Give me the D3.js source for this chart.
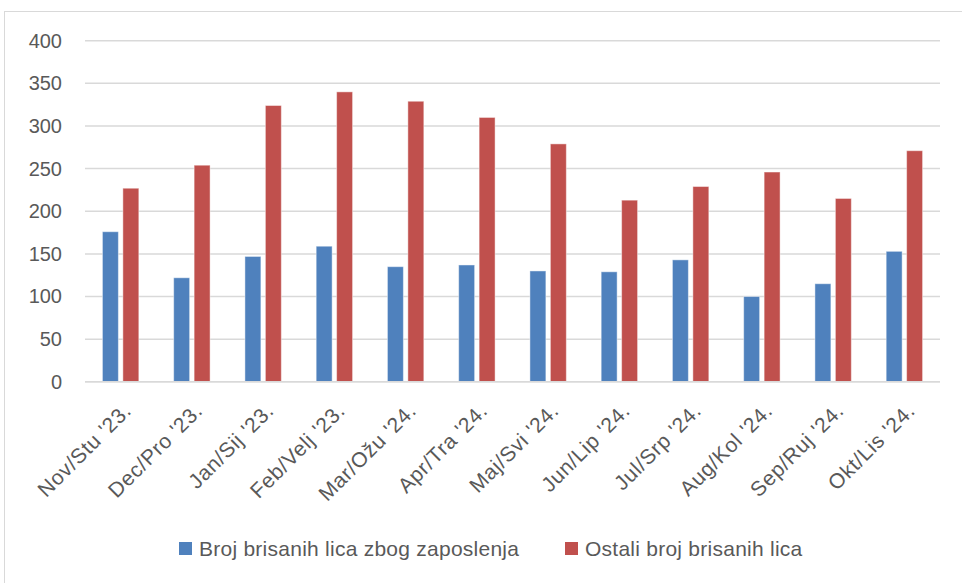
<!DOCTYPE html>
<html>
<head>
<meta charset="utf-8">
<script src="https://cdn.jsdelivr.net/npm/d3@7"></script>
<style>
  body { margin: 0; background: #fff; }
  svg { display: block; font-family: "Liberation Sans", Arial, sans-serif; }
</style>
</head>
<body>
<svg id="chart" width="962" height="583"></svg>
<script>
// data
var months = ["Nov/Stu '23.", "Dec/Pro '23.", "Jan/Sij '23.", "Feb/Velj '23.",
  "Mar/Ožu '24.", "Apr/Tra '24.", "Maj/Svi '24.", "Jun/Lip '24.",
  "Jul/Srp '24.", "Aug/Kol '24.", "Sep/Ruj '24.", "Okt/Lis '24."];
var zaposlenje = [176, 122, 147, 159, 135, 137, 130, 129, 143, 100, 115, 153];
var ostali = [227, 254, 324, 340, 329, 310, 279, 213, 229, 246, 215, 271];
var seriesNames = ["Broj brisanih lica zbog zaposlenja", "Ostali broj brisanih lica"];
var colors = ["#4F81BD", "#C0504D"];
var yTicks = [0, 50, 100, 150, 200, 250, 300, 350, 400];

var svg = d3.select('#chart');

// outer chart frame (runs off the right and bottom edge)
svg.append('rect')
  .attr('x', 4.5).attr('y', 11.5)
  .attr('width', 1100).attr('height', 1100)
  .attr('fill', '#fff')
  .attr('stroke', '#D9D9D9');

var plotLeft = 85, plotRight = 940, plotTop = 40.7, plotBottom = 381.8;

var y = d3.scaleLinear().domain([0, 400]).range([plotBottom, plotTop]);
var x0 = d3.scaleBand().domain(months).range([plotLeft, plotRight]).paddingInner(0.489).paddingOuter(0.2445);
var x1 = d3.scaleBand().domain([0, 1]).range([0, x0.bandwidth()]).paddingInner(0.22);

// gridlines
svg.append('g')
  .selectAll('line')
  .data(yTicks)
  .enter().append('line')
  .attr('x1', plotLeft).attr('x2', plotRight)
  .attr('y1', function (d) { return y(d); })
  .attr('y2', function (d) { return y(d); })
  .attr('stroke', '#D9D9D9')
  .attr('stroke-width', 1.5);

// y axis labels
var yAxis = d3.axisLeft(y).tickValues(yTicks).tickSize(0).tickPadding(0);
var gy = svg.append('g').attr('transform', 'translate(62,0)').call(yAxis);
gy.select('.domain').remove();
gy.selectAll('text')
  .attr('fill', '#595959')
  .style('font-size', '20px');

// bars
var rows = months.map(function (m, i) {
  return {month: m, values: [zaposlenje[i], ostali[i]]};
});

var groups = svg.append('g')
  .selectAll('g')
  .data(rows)
  .enter().append('g')
  .attr('transform', function (d) { return 'translate(' + x0(d.month) + ',0)'; });

groups.selectAll('rect')
  .data(function (d) { return d.values.map(function (v, k) { return {k: k, v: v}; }); })
  .enter().append('rect')
  .attr('x', function (d) { return x1(d.k); })
  .attr('width', x1.bandwidth())
  .attr('y', function (d) { return y(d.v); })
  .attr('height', function (d) { return y(0) - y(d.v); })
  .attr('fill', function (d) { return colors[d.k]; })
  .attr('stroke', '#fff')
  .attr('stroke-opacity', 0.45)
  .attr('stroke-width', 1);

// baseline on top of bars
svg.append('line')
  .attr('x1', plotLeft).attr('x2', plotRight)
  .attr('y1', y(0)).attr('y2', y(0))
  .attr('stroke', '#D9D9D9')
  .attr('stroke-width', 1.5);

// x axis labels, rotated
var xAxis = d3.axisBottom(x0).tickSize(0).tickPadding(0);
var gx = svg.append('g').attr('transform', 'translate(0,' + plotBottom + ')').call(xAxis);
gx.select('.domain').remove();
gx.selectAll('text')
  .attr('fill', '#595959')
  .style('font-size', '21px')
  .style('letter-spacing', '0.7px')
  .attr('text-anchor', 'end')
  .attr('dy', 0)
  .attr('transform', 'translate(12,30) rotate(-45)');

// legend
var legend = svg.append('g');
var legendX = [179, 565];
seriesNames.forEach(function (name, i) {
  legend.append('rect')
    .attr('x', legendX[i]).attr('y', 542)
    .attr('width', 13).attr('height', 13)
    .attr('fill', colors[i]);
  legend.append('text')
    .attr('x', legendX[i] + 20).attr('y', 549)
    .attr('dy', '0.35em')
    .attr('fill', '#595959')
    .style('font-size', '21px')
    .style('letter-spacing', '0.25px')
    .text(name);
});
</script>
</body>
</html>
